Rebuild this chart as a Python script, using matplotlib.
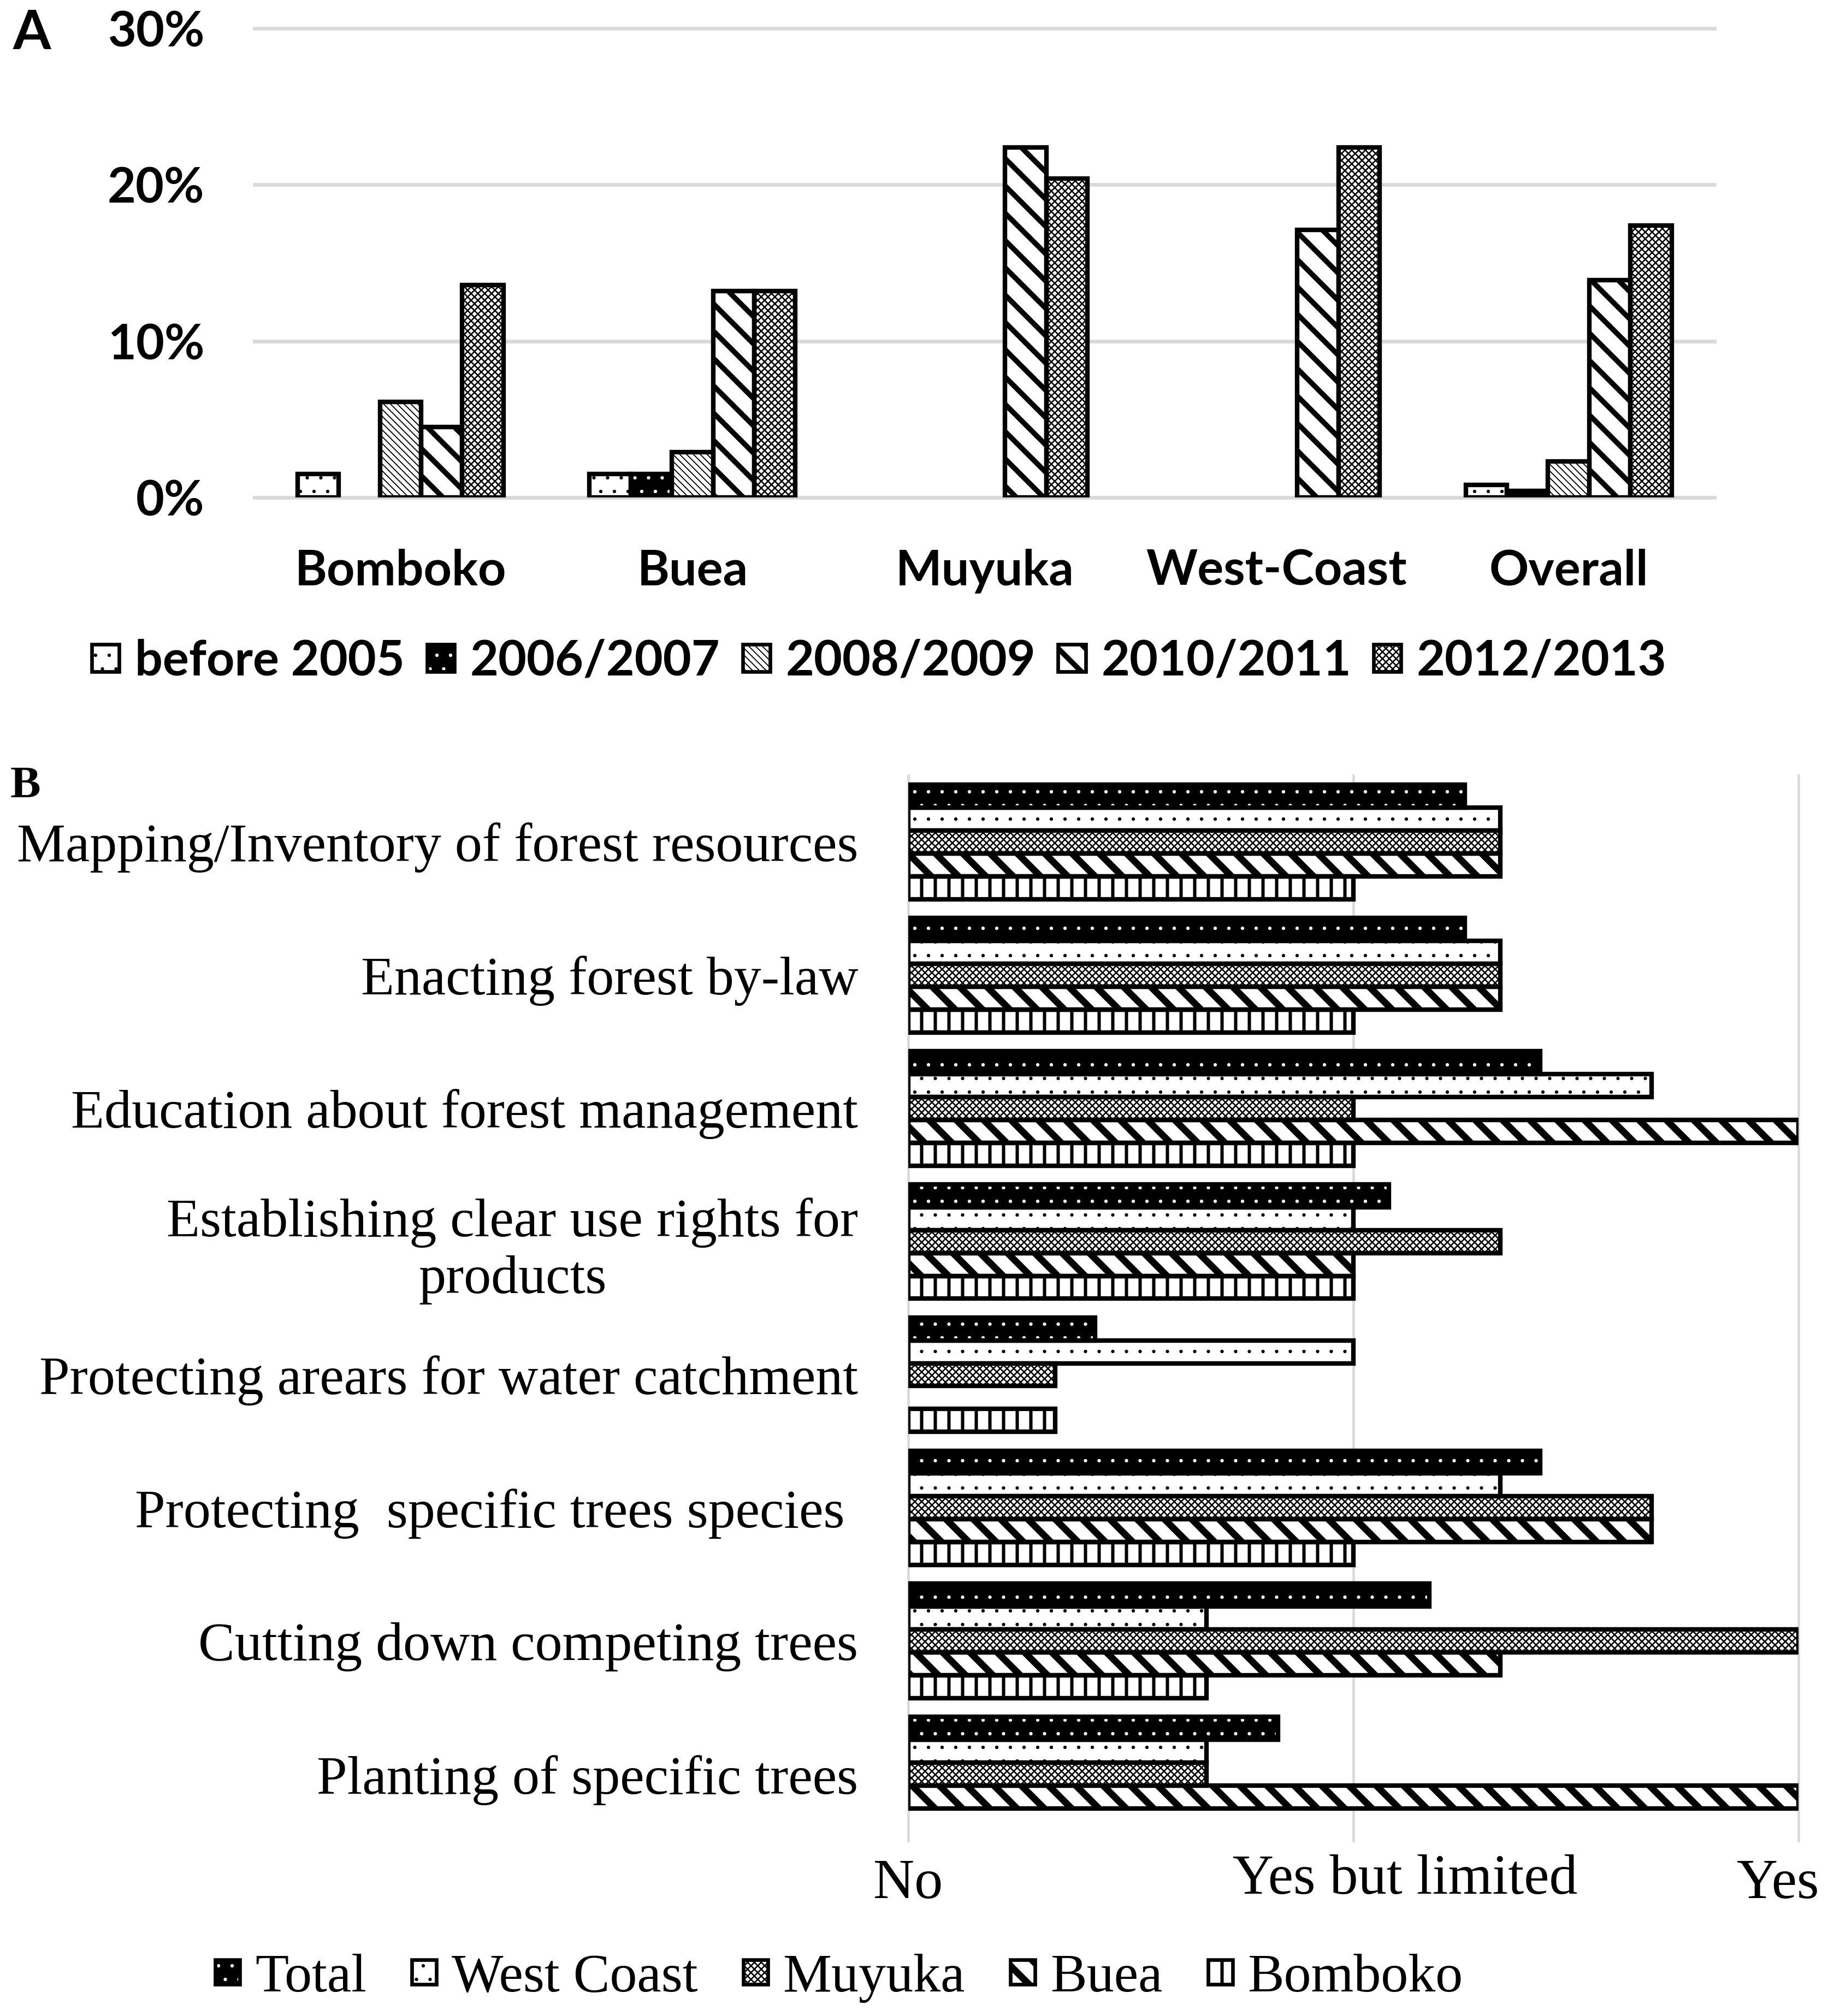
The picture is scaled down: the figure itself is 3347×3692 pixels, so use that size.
import matplotlib
matplotlib.use('Agg')
import matplotlib.pyplot as plt
from matplotlib.patches import Rectangle
from matplotlib.legend_handler import HandlerBase
from matplotlib.ticker import PercentFormatter
import numpy as np

# ---- panel A: year the practice started (% of respondents) ----
sites = ['Bomboko', 'Buea', 'Muyuka', 'West-Coast', 'Overall']
periods = ['before 2005', '2006/2007', '2008/2009', '2010/2011', '2012/2013']
before_2005 = [1.5, 1.5, 0, 0, 0.8]
p2006_2007 = [0, 1.5, 0, 0, 0.4]
p2008_2009 = [6.1, 2.9, 0, 0, 2.3]
p2010_2011 = [4.5, 13.2, 22.4, 17.1, 13.9]
p2012_2013 = [13.6, 13.2, 20.4, 22.4, 17.4]

# ---- panel B: practices (0 = No, 1 = Yes but limited, 2 = Yes) ----
practices = ['Mapping/Inventory of forest resources',
             'Enacting forest by-law',
             'Education about forest management',
             'Establishing clear use rights for\nproducts',
             'Protecting arears for water catchment',
             'Protecting  specific trees species ',
             'Cutting down competing trees',
             'Planting of specific trees']
regions = ['Total', 'West Coast', 'Muyuka', 'Buea', 'Bomboko']
total = [1.25, 1.25, 1.42, 1.08, 0.42, 1.42, 1.17, 0.83]
west_coast = [1.33, 1.33, 1.67, 1.0, 1.0, 1.33, 0.67, 0.67]
muyuka = [1.33, 1.33, 1.0, 1.33, 0.33, 1.67, 2.0, 0.67]
buea = [1.33, 1.33, 2.0, 1.0, 0, 1.67, 1.33, 2.0]
bomboko = [1.0, 1.0, 1.0, 1.0, 0.33, 1.0, 0.67, 0]
scale_labels = ['No', 'Yes but limited', 'Yes']

EDGE_LW = 2.0
GRID = '#d9d9d9'
# (face, hatch colour, hatch, hatch linewidth, hatch used in legend)
dots_white = ('white', 'black', '..', 0.3, '..')
dots_black = ('black', 'white', '..', 0.3, '..')
thin_diag = ('white', 'black', '\\' * 8, 0.45, '\\' * 8)
wide_diag_a = ('white', 'black', '\\\\', 2.3, '\\\\')
wide_diag_b = ('white', 'black', '\\\\', 3.0, '\\\\')
checker = ('white', 'black', 'xxxxxxxx', 0.62, 'xxxxxxxx')
vstripes = ('white', 'black', '||', 1.45, '||')

sans = dict(family='Lato', weight='bold', size=21.5)
serif = dict(family='Liberation Serif', size=24)


def set_hatch_lw(patch, lw):
    # per-patch hatch width; falls back to rcParams at draw time
    if hasattr(patch, 'set_hatch_linewidth'):
        patch.set_hatch_linewidth(lw)
    orig = patch.draw

    def draw(renderer):
        with plt.rc_context({'hatch.linewidth': lw}):
            orig(renderer)
    patch.draw = draw


def draw_bars(ax, pos, vals, size, style, horizontal=False):
    face, hcol, hatch, hlw, _ = style
    fn = ax.barh if horizontal else ax.bar
    with plt.rc_context({'hatch.linewidth': hlw}):
        fill = fn(pos, vals, size, facecolor=face, edgecolor=hcol,
                  hatch=hatch, linewidth=0, zorder=2)
    edge = fn(pos, vals, size, facecolor='none', edgecolor='black',
              linewidth=EDGE_LW, zorder=3)
    for f, e, v in zip(fill, edge, vals):
        set_hatch_lw(f, hlw)
        if v == 0:
            f.set_visible(False)
            e.set_visible(False)


class HatchHandler(HandlerBase):
    """legend square: hatched fill plus black outline"""
    def __init__(self, style):
        super().__init__()
        self.style = style

    def create_artists(self, legend, orig_handle, xdescent, ydescent,
                       width, height, fontsize, trans):
        face, hcol, _, hlw, hatch = self.style
        side = min(width, height)
        x0 = -xdescent + (width - side) / 2
        y0 = -ydescent + (height - side) / 2
        with plt.rc_context({'hatch.linewidth': hlw}):
            fill = Rectangle((x0, y0), side, side, facecolor=face, edgecolor=hcol,
                             hatch=hatch, linewidth=0, transform=trans)
        set_hatch_lw(fill, hlw)
        edge = Rectangle((x0, y0), side, side, facecolor='none', edgecolor='black',
                         linewidth=EDGE_LW * 0.8, transform=trans)
        return [fill, edge]


def make_legend(styles, labels, anchor, prop, **kw):
    handles, hmap = [], {}
    for st in styles:
        proxy = Rectangle((0, 0), 1, 1)
        handles.append(proxy)
        hmap[proxy] = HatchHandler(st)
    return fig.legend(handles, labels, handler_map=hmap, loc='center',
                      bbox_to_anchor=anchor, ncol=len(labels), frameon=False,
                      prop=prop, **kw)


fig = plt.figure(figsize=(3347 / 300, 3692 / 300), dpi=300)

# ================= panel A =================
axA = fig.add_axes([0.1392, 0.7533, 0.7988, 0.2326])
x = np.arange(len(sites))
w = 0.141
stylesA = [dots_white, dots_black, thin_diag, wide_diag_a, checker]
seriesA = [before_2005, p2006_2007, p2008_2009, p2010_2011, p2012_2013]
for k, (vals, st) in enumerate(zip(seriesA, stylesA)):
    draw_bars(axA, x + (k - 2) * w, vals, w, st)

axA.set_xlim(-0.5, len(sites) - 0.5)
axA.set_ylim(0, 30)
axA.set_yticks([0, 10, 20, 30])
axA.yaxis.set_major_formatter(PercentFormatter(xmax=100, decimals=0))
for t in axA.get_yticks():
    axA.axhline(t, color=GRID, lw=1.6, zorder=1, clip_on=False)
axA.set_xticks(x)
axA.set_xticklabels(sites)
axA.tick_params(length=0, labelsize=sans['size'])
axA.tick_params(axis='y', pad=22)
axA.tick_params(axis='x', pad=22.5)
for lbl in axA.get_xticklabels() + axA.get_yticklabels():
    lbl.set_fontfamily(sans['family'])
    lbl.set_fontweight('bold')
for s in axA.spines.values():
    s.set_visible(False)

make_legend(stylesA, periods, (0.481, 0.672), sans,
            handlelength=0.56, handleheight=0.56, handletextpad=0.32,
            columnspacing=0.46)
fig.text(0.007, 0.9756, 'A', fontfamily='Lato', fontweight='bold', fontsize=24,
         va='baseline')

# ================= panel B =================
axB = fig.add_axes([0.4969, 0.0869, 0.4870, 0.5285])
y = np.arange(len(practices))
h = 0.172
stylesB = [dots_black, dots_white, checker, wide_diag_b, vstripes]
seriesB = [total, west_coast, muyuka, buea, bomboko]
for k, (vals, st) in enumerate(zip(seriesB, stylesB)):
    draw_bars(axB, y + (k - 2) * h, vals, h, st, horizontal=True)

axB.set_xlim(0, 2)
axB.set_ylim(len(practices) - 0.5, -0.5)
for t in [0, 1, 2]:
    axB.axvline(t, color=GRID, lw=1.1, zorder=1, clip_on=False)
axB.set_yticks(y)
axB.set_yticklabels(practices, fontfamily=serif['family'], fontsize=serif['size'])
for lbl in axB.get_yticklabels():
    lbl.set_multialignment('center')
axB.set_xticks([0, 1, 2])
axB.set_xticklabels([])
# the scale labels sit a little off their gridlines in the original
for val, lab, dx, dy in zip([0, 1, 2], scale_labels, [0, 22.6, -9], [0, 2, 0]):
    axB.annotate(lab, xy=(val, 0), xycoords=('data', 'axes fraction'),
                 xytext=(dx, -8 + dy), textcoords='offset points',
                 ha='center', va='top', fontfamily=serif['family'], fontsize=25,
                 annotation_clip=False)
axB.tick_params(length=0)
axB.tick_params(axis='y', pad=22)
for s in axB.spines.values():
    s.set_visible(False)

make_legend(stylesB, regions, (0.459, 0.0187), serif,
            handlelength=0.45, handleheight=0.6, handletextpad=0.28,
            columnspacing=0.83)
fig.text(0.0056, 0.6046, 'B', fontfamily='Liberation Serif', fontweight='bold',
         fontsize=20, va='baseline')

fig.savefig('out.png', dpi=300, facecolor='white')
